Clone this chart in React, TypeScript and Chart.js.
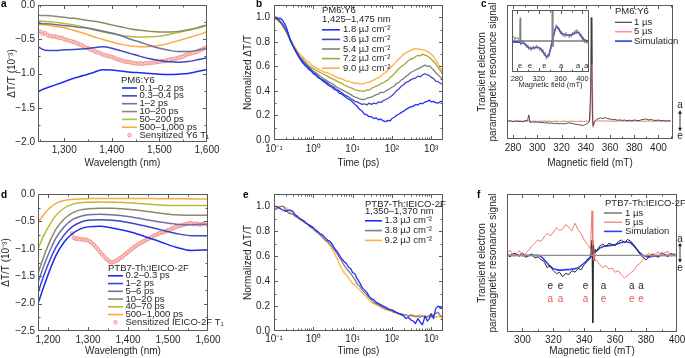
import React, { useEffect, useRef } from 'react';
import { Chart, registerables } from 'chart.js';
Chart.register(...registerables);

const FONT = '"Liberation Sans Narrow", "Arial Narrow", "Liberation Sans", Arial, sans-serif';
const TXT = '#231f20';
const FRAME = '#58595b';

// ---------------- Panel a (PM6:Y6 spectra) ----------------
const aWl = [1245, 1260, 1280, 1300, 1320, 1340, 1360, 1380, 1400, 1420, 1440, 1460, 1480, 1500, 1520, 1540, 1560, 1580, 1600];
const a01 = [-1.26, -1.22, -1.17, -1.12, -1.07, -1.03, -0.99, -0.945, -0.95, -0.965, -0.98, -0.99, -1.0, -1.01, -1.015, -1.01, -1.0, -0.97, -0.94];
const a03 = [-0.61, -0.66, -0.665, -0.655, -0.65, -0.64, -0.625, -0.61, -0.63, -0.67, -0.71, -0.75, -0.785, -0.81, -0.83, -0.835, -0.825, -0.8, -0.77];
const a1 = [-0.27, -0.275, -0.285, -0.3, -0.315, -0.33, -0.35, -0.38, -0.41, -0.45, -0.5, -0.545, -0.59, -0.63, -0.66, -0.68, -0.68, -0.66, -0.63];
const a10 = [-0.15, -0.155, -0.165, -0.18, -0.195, -0.215, -0.235, -0.26, -0.29, -0.32, -0.35, -0.37, -0.385, -0.395, -0.395, -0.385, -0.36, -0.33, -0.29];
const a50 = [-0.23, -0.24, -0.25, -0.27, -0.29, -0.32, -0.36, -0.39, -0.42, -0.445, -0.46, -0.47, -0.465, -0.455, -0.43, -0.4, -0.37, -0.34, -0.3];
const a500 = [-0.28, -0.29, -0.31, -0.33, -0.37, -0.41, -0.46, -0.5, -0.54, -0.575, -0.6, -0.61, -0.605, -0.59, -0.56, -0.52, -0.48, -0.44, -0.39];
const aT1Wl = [1250, 1255, 1260, 1265, 1270, 1275, 1280, 1285, 1290, 1295, 1300, 1305, 1310, 1315, 1320, 1325, 1330, 1335, 1340, 1345, 1350, 1355, 1360, 1365, 1370, 1375, 1380, 1385, 1390, 1395, 1400, 1405, 1410, 1415, 1420, 1425, 1430, 1435, 1440, 1445, 1450, 1455, 1460, 1465, 1470, 1475, 1480, 1485, 1490, 1495, 1500, 1505, 1510, 1515, 1520, 1525, 1530, 1535, 1540, 1545, 1550, 1555, 1560, 1565, 1570, 1575, 1580, 1585, 1590, 1595, 1600];
const aT1 = [-0.39, -0.42, -0.41, -0.44, -0.45, -0.46, -0.46, -0.47, -0.48, -0.48, -0.5, -0.51, -0.52, -0.53, -0.54, -0.55, -0.57, -0.58, -0.6, -0.62, -0.63, -0.65, -0.66, -0.68, -0.69, -0.7, -0.72, -0.73, -0.74, -0.75, -0.76, -0.77, -0.79, -0.8, -0.81, -0.82, -0.83, -0.83, -0.84, -0.85, -0.85, -0.86, -0.85, -0.86, -0.85, -0.85, -0.85, -0.84, -0.84, -0.83, -0.83, -0.82, -0.82, -0.81, -0.8, -0.79, -0.79, -0.78, -0.77, -0.76, -0.75, -0.73, -0.72, -0.71, -0.7, -0.69, -0.68, -0.66, -0.65, -0.63, -0.62];
const aLabels = ['0.1–0.2 ps', '0.3–0.4 ps', '1–2 ps', '10–20 ps', '50–200 ps', '500–1,000 ps', 'Sensitized Y6 T₁'];
const aXTicks = [1300, 1400, 1500, 1600];
const aYTicks = [0, -0.5, -1, -1.5, -2];

// ---------------- Panel d (PTB7-Th:IEICO-2F spectra) ----------------
const dWl = [1175, 1190, 1205, 1220, 1240, 1260, 1280, 1300, 1330, 1360, 1400, 1440, 1480, 1520, 1560, 1600];
const d02 = [-2.0, -1.68, -1.38, -1.12, -0.88, -0.73, -0.64, -0.6, -0.59, -0.62, -0.68, -0.77, -0.87, -0.97, -1.03, -1.02];
const d1 = [-1.8, -1.48, -1.2, -0.97, -0.75, -0.6, -0.52, -0.48, -0.47, -0.48, -0.52, -0.58, -0.65, -0.72, -0.76, -0.76];
const d5 = [-1.62, -1.3, -1.03, -0.8, -0.6, -0.47, -0.41, -0.38, -0.37, -0.38, -0.41, -0.46, -0.51, -0.55, -0.56, -0.55];
const d10 = [-1.45, -1.13, -0.86, -0.64, -0.46, -0.35, -0.29, -0.27, -0.26, -0.26, -0.28, -0.31, -0.35, -0.38, -0.39, -0.39];
const d40 = [-1.0, -0.75, -0.55, -0.39, -0.26, -0.19, -0.16, -0.15, -0.145, -0.15, -0.16, -0.18, -0.2, -0.21, -0.21, -0.21];
const d500 = [-0.52, -0.37, -0.25, -0.17, -0.12, -0.1, -0.09, -0.085, -0.08, -0.08, -0.08, -0.08, -0.085, -0.085, -0.09, -0.09];
const dT1Wl = [1260, 1265, 1270, 1275, 1280, 1285, 1290, 1295, 1300, 1305, 1310, 1315, 1320, 1325, 1330, 1335, 1340, 1345, 1350, 1355, 1360, 1365, 1370, 1375, 1380, 1385, 1390, 1395, 1400, 1405, 1410, 1415, 1420, 1425, 1430, 1435, 1440, 1445, 1450, 1455, 1460, 1465, 1470, 1475, 1480, 1485, 1490, 1495, 1500, 1505, 1510, 1515, 1520, 1525, 1530, 1535, 1540, 1545, 1550, 1555, 1560, 1565, 1570, 1575, 1580, 1585, 1590, 1595, 1600];
const dT1 = [-0.72, -0.8, -0.82, -0.81, -0.83, -0.82, -0.84, -0.83, -0.85, -0.87, -0.9, -0.93, -0.97, -1.01, -1.06, -1.1, -1.14, -1.18, -1.21, -1.24, -1.25, -1.24, -1.22, -1.2, -1.17, -1.15, -1.12, -1.09, -1.06, -1.03, -1.0, -0.97, -0.95, -0.92, -0.9, -0.88, -0.86, -0.84, -0.82, -0.8, -0.78, -0.76, -0.75, -0.73, -0.71, -0.7, -0.69, -0.68, -0.66, -0.65, -0.63, -0.62, -0.6, -0.59, -0.58, -0.57, -0.56, -0.55, -0.54, -0.53, -0.54, -0.55, -0.54, -0.55, -0.56, -0.55, -0.54, -0.53, -0.57];
const dLabels = ['0.2–0.3 ps', '1–2 ps', '5–6 ps', '10–20 ps', '40–70 ps', '500–1,000 ps', 'Sensitized IEICO-2F T₁'];
const dXTicks = [1200, 1300, 1400, 1500, 1600];
const dYTicks = [0, -0.5, -1, -1.5, -2, -2.5];

// ---------------- Panels b & e (kinetics) ----------------
const timePs = [0.1, 0.115, 0.13, 0.15, 0.17, 0.2, 0.23, 0.26, 0.3, 0.35, 0.4, 0.46, 0.53, 0.6, 0.7, 0.8, 0.9, 1, 1.15, 1.3, 1.5, 1.75, 2, 2.3, 2.6, 3, 3.5, 4, 4.6, 5.3, 6, 7, 8, 9, 10, 11.5, 13, 15, 17.5, 20, 23, 26, 30, 35, 40, 46, 53, 60, 70, 80, 90, 100, 115, 130, 150, 175, 200, 230, 260, 300, 350, 400, 460, 530, 600, 700, 800, 900, 1000, 1150, 1300, 1500, 1750, 2000];
const b18 = [1.0, 1.0, 0.99, 0.99, 0.97, 0.93, 0.87, 0.82, 0.77, 0.73, 0.69, 0.66, 0.63, 0.61, 0.59, 0.57, 0.56, 0.54, 0.53, 0.51, 0.5, 0.48, 0.47, 0.45, 0.44, 0.43, 0.41, 0.405, 0.38, 0.375, 0.36, 0.345, 0.33, 0.325, 0.31, 0.29, 0.275, 0.25, 0.235, 0.21, 0.205, 0.19, 0.19, 0.175, 0.18, 0.165, 0.17, 0.155, 0.15, 0.16, 0.155, 0.175, 0.185, 0.2, 0.21, 0.225, 0.235, 0.25, 0.26, 0.27, 0.275, 0.29, 0.285, 0.3, 0.295, 0.31, 0.315, 0.325, 0.31, 0.315, 0.305, 0.3, 0.315, 0.31];
const b36 = [1.0, 0.99, 0.98, 0.96, 0.94, 0.9, 0.86, 0.81, 0.77, 0.73, 0.7, 0.67, 0.64, 0.62, 0.6, 0.58, 0.565, 0.55, 0.535, 0.52, 0.5, 0.49, 0.48, 0.465, 0.45, 0.44, 0.425, 0.41, 0.4, 0.385, 0.37, 0.36, 0.35, 0.335, 0.33, 0.315, 0.31, 0.3, 0.29, 0.295, 0.285, 0.3, 0.29, 0.3, 0.295, 0.31, 0.305, 0.32, 0.33, 0.34, 0.35, 0.36, 0.38, 0.4, 0.415, 0.44, 0.45, 0.47, 0.475, 0.49, 0.5, 0.505, 0.52, 0.515, 0.53, 0.54, 0.53, 0.525, 0.51, 0.5, 0.48, 0.475, 0.46, 0.45];
const b54 = [0.99, 0.99, 0.98, 0.96, 0.93, 0.89, 0.85, 0.81, 0.77, 0.73, 0.7, 0.67, 0.65, 0.63, 0.61, 0.59, 0.575, 0.56, 0.55, 0.535, 0.52, 0.505, 0.495, 0.48, 0.47, 0.46, 0.445, 0.43, 0.42, 0.41, 0.4, 0.39, 0.38, 0.37, 0.36, 0.35, 0.345, 0.335, 0.33, 0.33, 0.34, 0.345, 0.35, 0.36, 0.37, 0.375, 0.39, 0.385, 0.4, 0.41, 0.42, 0.43, 0.44, 0.46, 0.47, 0.49, 0.5, 0.52, 0.53, 0.55, 0.56, 0.57, 0.58, 0.59, 0.6, 0.61, 0.6, 0.605, 0.59, 0.57, 0.55, 0.53, 0.51, 0.49];
const b72 = [0.99, 0.99, 0.97, 0.95, 0.93, 0.89, 0.85, 0.81, 0.78, 0.74, 0.71, 0.68, 0.66, 0.64, 0.62, 0.6, 0.59, 0.58, 0.57, 0.56, 0.55, 0.54, 0.53, 0.52, 0.51, 0.5, 0.49, 0.48, 0.47, 0.46, 0.45, 0.44, 0.43, 0.425, 0.42, 0.41, 0.405, 0.4, 0.4, 0.395, 0.41, 0.405, 0.42, 0.43, 0.44, 0.445, 0.46, 0.465, 0.48, 0.49, 0.51, 0.52, 0.54, 0.56, 0.58, 0.6, 0.61, 0.63, 0.645, 0.66, 0.665, 0.68, 0.69, 0.685, 0.7, 0.69, 0.685, 0.67, 0.66, 0.64, 0.62, 0.59, 0.56, 0.53];
const b90 = [0.99, 0.98, 0.97, 0.95, 0.92, 0.89, 0.85, 0.82, 0.79, 0.75, 0.72, 0.7, 0.68, 0.66, 0.64, 0.63, 0.61, 0.6, 0.59, 0.58, 0.57, 0.56, 0.55, 0.55, 0.54, 0.53, 0.52, 0.51, 0.5, 0.5, 0.49, 0.48, 0.48, 0.47, 0.47, 0.46, 0.465, 0.455, 0.46, 0.46, 0.47, 0.47, 0.48, 0.49, 0.5, 0.51, 0.52, 0.54, 0.55, 0.57, 0.59, 0.6, 0.62, 0.64, 0.66, 0.68, 0.7, 0.71, 0.72, 0.73, 0.74, 0.745, 0.74, 0.74, 0.735, 0.73, 0.72, 0.71, 0.7, 0.68, 0.65, 0.62, 0.58, 0.54];
const bLabels = ['1.8 µJ cm⁻²', '3.6 µJ cm⁻²', '5.4 µJ cm⁻²', '7.2 µJ cm⁻²', '9.0 µJ cm⁻²'];
const e13 = [1.0, 1.0, 0.99, 0.98, 0.97, 0.96, 0.97, 0.97, 0.96, 0.93, 0.92, 0.9, 0.89, 0.88, 0.86, 0.85, 0.84, 0.83, 0.81, 0.8, 0.78, 0.77, 0.75, 0.73, 0.72, 0.7, 0.66, 0.64, 0.61, 0.58, 0.56, 0.54, 0.51, 0.5, 0.47, 0.46, 0.42, 0.39, 0.35, 0.33, 0.31, 0.28, 0.26, 0.25, 0.23, 0.22, 0.21, 0.2, 0.19, 0.18, 0.17, 0.17, 0.16, 0.15, 0.14, 0.13, 0.12, 0.1, 0.11, 0.09, 0.08, 0.06, 0.1, 0.07, 0.05, 0.12, 0.08, 0.1, 0.14, 0.1, 0.18, 0.2, 0.18, 0.2];
const e38 = [0.97, 0.98, 0.99, 1.0, 1.0, 0.97, 0.95, 0.94, 0.94, 0.92, 0.91, 0.9, 0.89, 0.87, 0.86, 0.84, 0.83, 0.82, 0.8, 0.79, 0.77, 0.75, 0.73, 0.72, 0.7, 0.68, 0.65, 0.62, 0.59, 0.56, 0.53, 0.5, 0.48, 0.46, 0.44, 0.41, 0.38, 0.36, 0.33, 0.31, 0.29, 0.27, 0.25, 0.23, 0.22, 0.21, 0.2, 0.19, 0.18, 0.17, 0.17, 0.16, 0.15, 0.15, 0.14, 0.14, 0.13, 0.13, 0.12, 0.13, 0.12, 0.12, 0.12, 0.11, 0.12, 0.12, 0.11, 0.12, 0.12, 0.13, 0.14, 0.15, 0.12, 0.12];
const e92 = [0.98, 0.99, 1.0, 1.0, 1.0, 0.99, 0.97, 0.95, 0.94, 0.93, 0.91, 0.89, 0.88, 0.87, 0.86, 0.84, 0.83, 0.82, 0.8, 0.79, 0.77, 0.75, 0.73, 0.71, 0.69, 0.66, 0.62, 0.58, 0.54, 0.5, 0.47, 0.45, 0.42, 0.4, 0.38, 0.37, 0.35, 0.33, 0.31, 0.29, 0.27, 0.25, 0.23, 0.22, 0.21, 0.2, 0.19, 0.18, 0.17, 0.17, 0.16, 0.16, 0.15, 0.14, 0.14, 0.13, 0.13, 0.13, 0.12, 0.12, 0.13, 0.11, 0.12, 0.13, 0.12, 0.11, 0.12, 0.13, 0.11, 0.12, 0.11, 0.12, 0.11, 0.11];
const eLabels = ['1.3 µJ cm⁻²', '3.8 µJ cm⁻²', '9.2 µJ cm⁻²'];
const logTicks = [0.1, 1, 10, 100, 1000];
const logTickLabels = ['10⁻¹', '10⁰', '10¹', '10²', '10³'];
const normYTicks = [0, 0.2, 0.4, 0.6, 0.8, 1.0];

// ---------------- Panel c (PM6:Y6 trEPR) ----------------
const cField = [276, 278, 280, 282, 284, 286, 288, 290, 292, 293, 294, 296, 298, 300, 302, 304, 306, 308, 310, 312, 314, 316, 318, 320, 322, 324, 326, 328, 330, 332, 334, 336, 338, 340, 342, 343, 344, 344.5, 345, 345.5, 346, 347, 348, 349, 350, 352, 354, 356, 358, 360, 362, 364, 366, 368, 370, 372, 374, 376, 378, 380, 382, 384, 386, 388, 390, 392, 394, 396, 398, 400, 402, 404, 406, 408, 410];
const c1us = [0.0, 0.02, -0.03, 0.01, -0.02, 0.0, -0.04, 0.02, 0.04, 0.35, -0.08, -0.04, -0.06, -0.05, -0.08, -0.06, -0.1, -0.09, -0.12, -0.1, -0.14, -0.12, -0.15, -0.13, -0.16, -0.12, -0.1, -0.12, -0.15, -0.18, -0.2, -0.22, -0.25, -0.18, -0.1, 0.0, 1.6, 5.8, 3.2, 0.4, -0.25, -0.05, 0.05, 0.1, 0.12, 0.18, 0.15, 0.2, 0.14, 0.12, 0.08, 0.1, 0.05, 0.07, 0.04, 0.06, 0.02, 0.05, 0.03, 0.06, 0.04, 0.03, 0.08, 0.1, 0.12, 0.07, 0.09, 0.05, 0.04, 0.06, 0.02, 0.04, 0.0, 0.02, 0.01];
const c5us = [0.0, 0.01, -0.01, 0.0, 0.01, -0.01, 0.0, 0.01, 0.0, 0.02, 0.0, -0.01, 0.0, -0.02, 0.0, -0.01, 0.01, -0.01, 0.0, -0.02, -0.01, 0.0, -0.02, -0.01, 0.0, -0.02, -0.01, 0.0, -0.01, -0.02, -0.01, 0.0, -0.02, -0.01, 0.0, 0.0, 0.3, 2.5, 5.3, 2.0, -0.35, -0.1, 0.0, 0.01, 0.02, 0.01, 0.0, 0.02, 0.01, 0.0, -0.01, 0.01, 0.0, 0.02, 0.0, -0.01, 0.01, 0.0, -0.01, 0.01, 0.0, 0.01, 0.0, -0.01, 0.0, 0.01, 0.0, -0.01, 0.0, 0.01, 0.0, -0.01, 0.0, 0.01, 0.0];
const cXTicks = [280, 300, 320, 340, 360, 380, 400];
const eprLabels = ['1 µs', '5 µs', 'Simulation'];
// inset
const insetField = [272, 274, 276, 278, 280, 282, 284, 285, 286, 287, 288, 290, 292, 294, 296, 298, 300, 302, 304, 306, 308, 310, 312, 314, 316, 318, 320, 322, 324, 326, 328, 330, 332, 334, 336, 338, 340, 342, 343, 344, 345, 346, 347, 348, 350, 352, 354, 356, 358, 360, 362, 364, 366, 368, 370, 372, 374, 376, 378, 380, 382, 384, 386, 388, 390, 392, 394, 396, 398, 400, 402, 404, 406, 408, 410];
const insetTrace = [0.15, 0.25, 0.05, 0.2, 0.1, 0.18, -0.05, 0.9, 1.2, -0.2, 0.05, -0.1, 0.05, -0.2, -0.1, -0.35, -0.2, -0.45, -0.3, -0.5, -0.35, -0.25, -0.45, -0.3, -0.2, -0.4, -0.3, -0.5, -0.35, -0.6, -0.45, -0.75, -0.6, -0.95, -0.7, -0.85, -0.5, -0.4, -0.2, 1.7, 1.7, -0.3, 0.2, 0.35, 0.6, 0.85, 0.7, 0.55, 0.65, 0.35, 0.5, 0.25, 0.4, 0.2, 0.45, 0.25, 0.35, 0.15, 0.3, 0.2, 0.45, 0.3, 0.55, 0.35, 0.6, 0.4, 0.5, 0.2, 0.35, 0.05, 0.2, -0.1, 0.1, -0.15, 0.05];
const insetSimX = [272, 280, 288, 294, 300, 306, 312, 318, 324, 330, 334, 338, 342, 346, 350, 353, 356, 360, 365, 370, 375, 380, 385, 389, 393, 397, 401, 405, 410];
const insetSim = [-0.05, -0.05, -0.08, -0.15, -0.3, -0.38, -0.35, -0.32, -0.42, -0.65, -0.8, -0.75, -0.35, 0.15, 0.6, 0.75, 0.65, 0.45, 0.35, 0.32, 0.3, 0.32, 0.4, 0.45, 0.42, 0.28, 0.12, 0.03, 0.0];
const insetXTicks = [280, 320, 360, 400];
const insetLetters = ['e', 'e', 'e', 'a', 'a', 'a'];
const insetLetterX = [286, 304, 330, 361, 392, 407];

// ---------------- Panel f (PTB7-Th:IEICO-2F trEPR) ----------------
const fField = [290, 292, 294, 296, 298, 300, 302, 304, 306, 308, 310, 312, 314, 316, 318, 320, 322, 324, 326, 328, 330, 332, 334, 336, 338, 340, 342, 344, 345, 345.5, 346, 346.5, 347, 348, 350, 352, 354, 356, 358, 360, 362, 364, 366, 368, 370, 372, 374, 376, 378, 380, 382, 384, 386, 388, 390, 392, 394, 396, 398, 400];
const f1us = [0.02, -0.03, 0.04, 0.03, -0.02, 0.05, -0.04, -0.01, 0.03, -0.05, -0.03, -0.08, -0.12, -0.24, -0.2, -0.3, -0.36, -0.33, -0.42, -0.35, -0.38, -0.3, -0.33, -0.26, -0.28, -0.18, -0.12, -0.05, 0.3, -1.32, 0.2, -0.1, 0.12, 0.08, 0.18, 0.22, 0.17, 0.24, 0.21, 0.19, 0.27, 0.3, 0.25, 0.31, 0.28, 0.2, 0.12, 0.02, -0.04, -0.09, -0.03, 0.03, 0.0, -0.04, 0.05, 0.02, -0.03, 0.04, 0.01, -0.02];
const f5us = [0.05, 0.1, -0.02, 0.03, 0.09, -0.03, 0.04, 0.1, 0.18, 0.24, 0.3, 0.27, 0.36, 0.43, 0.38, 0.45, 0.54, 0.48, 0.52, 0.6, 0.55, 0.48, 0.63, 0.5, 0.42, 0.3, 0.22, 0.12, 0.87, 0.2, -0.1, 0.05, -0.1, -0.1, -0.18, -0.24, -0.2, -0.27, -0.25, -0.33, -0.3, -0.38, -0.44, -0.4, -0.34, -0.3, -0.2, -0.16, -0.08, 0.0, 0.04, -0.04, 0.03, 0.07, -0.01, 0.05, 0.08, -0.02, 0.04, 0.0];
const fSimX = [290, 300, 310, 312, 314, 316, 318, 320, 322, 324, 326, 328, 330, 332, 334, 336, 338, 340, 342, 344, 346, 348, 350, 352, 354, 356, 358, 360, 362, 364, 366, 368, 370, 372, 374, 376, 378, 380, 382, 384, 386, 390, 400];
const fSim = [0, 0, 0, -0.02, -0.08, -0.15, -0.22, -0.26, -0.28, -0.29, -0.29, -0.28, -0.28, -0.27, -0.26, -0.24, -0.2, -0.15, -0.09, -0.03, 0.03, 0.09, 0.14, 0.17, 0.18, 0.19, 0.2, 0.21, 0.23, 0.25, 0.26, 0.26, 0.24, 0.19, 0.12, 0.05, 0.0, -0.02, -0.03, -0.02, -0.01, 0, 0];
const fXTicks = [300, 320, 340, 360, 380, 400];
const fLetterX = [318, 324.6, 340.8, 352.5, 370.8, 376.8];
const fRow1 = ['e', 'e', 'e', 'a', 'a', 'a'];
const fRow2 = ['a', 'a', 'a', 'e', 'e', 'e'];

// ---------------- helpers ----------------
type Spec = { left: number; top: number; w: number; h: number; plot: [number, number, number, number] };
const pts = (xs: number[], ys: number[]) => xs.map((x, i) => ({ x, y: ys[i] }));
const signed = (v: number, d: number) => (v < -1e-9 ? '−' : '') + Math.abs(v).toFixed(d);
const comma = (v: number) => String(v).replace(/\B(?=(\d{3})+(?!\d))/g, ',');
const fixTicks = (vals: number[]) => (s: any) => { s.ticks = vals.map((v) => ({ value: v })); };
const logMinor = (() => { const r: number[] = []; [0.1, 1, 10, 100, 1000].forEach((d) => { for (let k = 2; k <= 9; k++) r.push(d * k); }); return r; })();

function framePlugin(f: { xMajor: number[]; xMinor: number[]; yMajor: number[]; yMinor: number[] }) {
  return {
    id: 'frame',
    afterDatasetsDraw(chart: any) {
      const { ctx, chartArea: a, scales } = chart;
      const L = Math.round(a.left) + 0.5, R = Math.round(a.right) - 0.5, T = Math.round(a.top) + 0.5, B = Math.round(a.bottom) - 0.5;
      ctx.save();
      ctx.strokeStyle = FRAME;
      ctx.lineWidth = 1;
      ctx.beginPath();
      const xt = (vals: number[], len: number) => vals.forEach((v) => {
        const p = Math.round(scales.x.getPixelForValue(v)) + 0.5;
        if (p < L + 1 || p > R - 1) return;
        ctx.moveTo(p, B); ctx.lineTo(p, B - len); ctx.moveTo(p, T); ctx.lineTo(p, T + len);
      });
      const yt = (vals: number[], len: number) => vals.forEach((v) => {
        const p = Math.round(scales.y.getPixelForValue(v)) + 0.5;
        if (p < T + 1 || p > B - 1) return;
        ctx.moveTo(L, p); ctx.lineTo(L + len, p); ctx.moveTo(R, p); ctx.lineTo(R - len, p);
      });
      xt(f.xMajor, 3.5); xt(f.xMinor, 2); yt(f.yMajor, 3.5); yt(f.yMinor, 2);
      ctx.stroke();
      ctx.strokeRect(L, T, R - L, B - T);
      ctx.restore();
    },
  };
}

type Row = { label: string; color: string; kind?: 'line' | 'dot'; fill?: string; w?: number };
type Legend = { x: number; titles: [string, number][]; lx0: number; lx1: number; tx: number; y0: number; dy: number; rows: Row[]; size: number };
type Overlay = {
  origin: [number, number];
  legend?: Legend;
  marks?: { x: number; y: number; t: string; c: string }[];
  markSize?: number;
  ae?: { x: number; up: number; a0: number; a1: number; down: number };
};

function overlayPlugin(o: Overlay) {
  return {
    id: 'overlay',
    afterDraw(chart: any) {
      const { ctx, scales } = chart;
      const [ox, oy] = o.origin;
      ctx.save();
      ctx.textBaseline = 'middle';
      if (o.legend) {
        const L = o.legend;
        ctx.font = `${L.size}px ${FONT}`;
        ctx.textAlign = 'left';
        ctx.fillStyle = TXT;
        L.titles.forEach(([t, y]) => ctx.fillText(t, L.x - ox, y - oy));
        L.rows.forEach((r, i) => {
          const y = L.y0 + i * L.dy - oy;
          if (r.kind === 'dot') {
            ctx.beginPath();
            ctx.arc((L.lx0 + L.lx1) / 2 - ox, y, 1.8, 0, Math.PI * 2);
            ctx.fillStyle = r.fill || '#fff';
            ctx.fill();
            ctx.lineWidth = 0.8;
            ctx.strokeStyle = r.color;
            ctx.stroke();
          } else {
            ctx.beginPath();
            ctx.moveTo(L.lx0 - ox, y);
            ctx.lineTo(L.lx1 - ox, y);
            ctx.lineWidth = r.w || 1.6;
            ctx.strokeStyle = r.color;
            ctx.stroke();
          }
          ctx.fillStyle = TXT;
          ctx.fillText(r.label, L.tx - ox, y);
        });
      }
      if (o.marks) {
        ctx.textAlign = 'center';
        ctx.font = `${o.markSize || 10}px ${FONT}`;
        o.marks.forEach((m) => {
          ctx.fillStyle = m.c;
          ctx.fillText(m.t, scales.x.getPixelForValue(m.x), scales.y.getPixelForValue(m.y));
        });
      }
      if (o.ae) {
        const A = o.ae;
        const base = scales.y.getPixelForValue(0);
        const x = A.x - ox;
        ctx.fillStyle = TXT;
        ctx.strokeStyle = TXT;
        ctx.textAlign = 'center';
        ctx.font = `10px ${FONT}`;
        ctx.fillText('a', x, base - A.up);
        ctx.fillText('e', x, base + A.down);
        ctx.lineWidth = 0.9;
        ctx.beginPath();
        ctx.moveTo(x, base - A.a0 + 2);
        ctx.lineTo(x, base + A.a1 - 2);
        ctx.stroke();
        ctx.beginPath();
        ctx.moveTo(x, base - A.a0); ctx.lineTo(x - 2, base - A.a0 + 3.5); ctx.lineTo(x + 2, base - A.a0 + 3.5); ctx.closePath();
        ctx.moveTo(x, base + A.a1); ctx.lineTo(x - 2, base + A.a1 - 3.5); ctx.lineTo(x + 2, base + A.a1 - 3.5); ctx.closePath();
        ctx.fill();
      }
      ctx.restore();
    },
  };
}

const tickFont = (size = 10) => ({ family: FONT, size });
const titleOpt = (text: string | string[], pad: { top: number; bottom: number }, size = 10, lh = 1.2) => ({
  display: true, text, color: TXT, font: { family: FONT, size, lineHeight: lh }, padding: pad,
});

function baseConfig(spec: Spec, x: any, y: any, datasets: any[], plugins: any[]) {
  const [pl, pt, pr, pb] = spec.plot;
  return {
    type: 'line',
    data: { datasets },
    plugins,
    options: {
      responsive: false,
      maintainAspectRatio: false,
      animation: false,
      events: [],
      layout: { padding: { left: 0, top: pt - spec.top, right: spec.left + spec.w - pr, bottom: 0 } },
      plugins: { legend: { display: false }, tooltip: { enabled: false } },
      elements: { point: { radius: 0 }, line: { borderJoinStyle: 'round' } },
      scales: {
        x: {
          ...x,
          grid: { display: false, drawTicks: false },
          border: { display: false },
          afterFit: (s: any) => { s.height = spec.top + spec.h - pb; s.paddingLeft = 0; s.paddingRight = 0; },
        },
        y: {
          ...y,
          grid: { display: false, drawTicks: false },
          border: { display: false },
          afterFit: (s: any) => { s.width = pl - spec.left; s.paddingTop = 0; s.paddingBottom = 0; },
        },
      },
    },
  };
}

const line = (data: any[], color: string, w = 1.5, smooth = false) => ({
  data, borderColor: color, backgroundColor: color, borderWidth: w, pointRadius: 0, fill: false,
  cubicInterpolationMode: smooth ? 'monotone' : 'default', tension: 0,
});
const dots = (data: any[]) => ({
  data, showLine: false, pointRadius: 1.8, pointBorderWidth: 0.8, pointBorderColor: '#f0857d', pointBackgroundColor: '#fbd3cf', borderColor: '#f0857d',
});

// ---------------- specs ----------------
const SA: Spec = { left: 0, top: 0, w: 225, h: 178, plot: [38, 5, 207, 142] };
const SB: Spec = { left: 225, top: 0, w: 228, h: 178, plot: [274, 5, 443, 140] };
const SC: Spec = { left: 453, top: 0, w: 232, h: 178, plot: [507, 5, 673, 139] };
const SI: Spec = { left: 505, top: 8, w: 95, h: 85, plot: [512, 10, 589, 72] };
const SD: Spec = { left: 0, top: 178, w: 225, h: 180, plot: [38, 194, 208, 331] };
const SE: Spec = { left: 225, top: 178, w: 228, h: 180, plot: [274, 194, 443, 331] };
const SF: Spec = { left: 453, top: 178, w: 232, h: 180, plot: [507, 194, 677, 332] };

const specColorsA = ['#1b2cf2', '#3b45c6', '#6e71a6', '#8a8b63', '#b7bd2e', '#fcaa3c'];
const colorsB = ['#1f2ff5', '#3f47c4', '#808080', '#a3a934', '#ffae45'];
const colorsE = ['#1f2ff5', '#7f7f7f', '#ffb347'];

function makeSpectrum(spec: Spec, xs: number[], series: number[][], t1x: number[], t1y: number[], xr: [number, number], yr: [number, number], xt: number[], yt: number[], labels: string[], legend: Omit<Legend, 'rows' | 'size'>, yTitlePad: number, xTitlePad: number, xTickPad: number) {
  const ds = series.map((ys, i) => line(pts(xs, ys), specColorsA[i], 1.5, true));
  ds.push(dots(pts(t1x, t1y)) as any);
  const rows: Row[] = labels.map((l, i) => (i < 6 ? { label: l, color: specColorsA[i] } : { label: l, color: '#f0857d', kind: 'dot', fill: '#fbd3cf' }));
  const xMinor = xt.map((v) => v - 50).concat([xt[xt.length - 1] + 50]);
  const yMinor = yt.slice(0, -1).map((v) => v - 0.25);
  return baseConfig(
    spec,
    {
      type: 'linear', min: xr[0], max: xr[1], afterBuildTicks: fixTicks(xt),
      ticks: { autoSkip: false, maxRotation: 0, color: TXT, font: tickFont(), padding: xTickPad, callback: (v: number) => comma(v) },
      title: titleOpt('Wavelength (nm)', { top: 0, bottom: xTitlePad }),
    },
    {
      type: 'linear', min: yr[0], max: yr[1], afterBuildTicks: fixTicks(yt),
      ticks: { autoSkip: false, color: TXT, font: tickFont(), padding: 3, callback: (v: number) => signed(v, 1) },
      title: titleOpt('ΔT/T (10⁻³)', { top: yTitlePad, bottom: 0 }),
    },
    ds,
    [framePlugin({ xMajor: xt, xMinor, yMajor: yt, yMinor }), overlayPlugin({ origin: [spec.left, spec.top], legend: { ...legend, rows, size: 9.5 } })],
  );
}

function makeKinetics(spec: Spec, series: number[][], colors: string[], labels: string[], legend: Omit<Legend, 'rows' | 'size'>, xTitlePad: number, xTickPad: number) {
  const ds = series.map((ys, i) => line(pts(timePs, ys), colors[i], 1.3));
  const rows: Row[] = labels.map((l, i) => ({ label: l, color: colors[i] }));
  return baseConfig(
    spec,
    {
      type: 'logarithmic', min: 0.1, max: 2000, afterBuildTicks: fixTicks(logTicks),
      ticks: { autoSkip: false, maxRotation: 0, color: TXT, font: tickFont(), padding: xTickPad, callback: (v: number) => logTickLabels[logTicks.indexOf(v)] ?? '' },
      title: titleOpt('Time (ps)', { top: 0, bottom: xTitlePad }),
    },
    {
      type: 'linear', min: 0, max: 1.1, afterBuildTicks: fixTicks(normYTicks),
      ticks: { autoSkip: false, color: TXT, font: tickFont(), padding: 4, callback: (v: number) => v.toFixed(1) },
      title: titleOpt('Normalized ΔT/T', { top: 17, bottom: 0 }),
    },
    ds,
    [framePlugin({ xMajor: logTicks, xMinor: logMinor, yMajor: normYTicks, yMinor: [0.1, 0.3, 0.5, 0.7, 0.9] }), overlayPlugin({ origin: [spec.left, spec.top], legend: { ...legend, rows, size: 9.5 } })],
  );
}

const eprYTitle = ['Transient electron', 'paramagnetic resonance signal'];

function configA() {
  return makeSpectrum(SA, aWl, [a01, a03, a1, a10, a50, a500], aT1Wl, aT1, [1245, 1600], [-2, 0], aXTicks, aYTicks, aLabels,
    { x: 121, titles: [['PM6:Y6', 80]], lx0: 122, lx1: 137, tx: 139.5, y0: 88, dy: 7.85 }, 6, 9, 2);
}
function configD() {
  return makeSpectrum(SD, dWl, [d02, d1, d5, d10, d40, d500], dT1Wl, dT1, [1175, 1600], [-2.5, 0], dXTicks, dYTicks, dLabels,
    { x: 108, titles: [['PTB7-Th:IEICO-2F', 268.7]], lx0: 108, lx1: 123, tx: 125.5, y0: 275.8, dy: 7.75 }, 0, 1, 3.5);
}
function configB() {
  return makeKinetics(SB, [b18, b36, b54, b72, b90], colorsB, bLabels,
    { x: 322, titles: [['PM6:Y6', 10], ['1,425–1,475 nm', 19.8]], lx0: 322, lx1: 340, tx: 343, y0: 29.8, dy: 9.6 }, 9, 3);
}
function configE() {
  return makeKinetics(SE, [e13, e38, e92], colorsE, eLabels,
    { x: 365, titles: [['PTB7-Th:IEICO-2F', 204], ['1,350–1,370 nm', 211.5]], lx0: 365, lx1: 382, tx: 384.5, y0: 220.8, dy: 9.8 }, 1, 2.5);
}
function configC() {
  const ds = [line(pts(cField, c1us), '#3c3c3c', 0.9), line(pts(cField, c5us), '#f59a93', 1.2)];
  return baseConfig(
    SC,
    {
      type: 'linear', min: 275, max: 412, afterBuildTicks: fixTicks(cXTicks),
      ticks: { autoSkip: false, maxRotation: 0, color: TXT, font: tickFont(), padding: 3, callback: (v: number) => String(v) },
      title: titleOpt('Magnetic field (mT)', { top: 0, bottom: 9 }),
    },
    { type: 'linear', min: -1, max: 6.5, ticks: { display: false }, title: titleOpt(eprYTitle, { top: 23.5, bottom: 0 }, 10, 1.1) },
    ds,
    [
      framePlugin({ xMajor: cXTicks, xMinor: [290, 310, 330, 350, 370, 390, 410], yMajor: [], yMinor: [] }),
      overlayPlugin({
        origin: [SC.left, SC.top],
        legend: {
          x: 615, titles: [['PM6:Y6', 11.7]], lx0: 615, lx1: 632, tx: 634, y0: 22.3, dy: 9.4, size: 9.5,
          rows: [{ label: eprLabels[0], color: '#444', w: 1.2 }, { label: eprLabels[1], color: '#f59a93' }, { label: eprLabels[2], color: '#2a3cf0' }],
        },
        ae: { x: 680, up: 16, a0: 11, a1: 10, down: 15 },
      }),
    ],
  );
}
function configInset() {
  const ds = [
    line(pts(insetField, insetTrace), '#7d7d7d', 0.8),
    line(pts([271, 412], [0, 0]), '#222', 0.9),
    line(pts(insetSimX, insetSim), '#2233e6', 1.6, true),
  ];
  return baseConfig(
    SI,
    {
      type: 'linear', min: 271, max: 412, afterBuildTicks: fixTicks(insetXTicks),
      ticks: { autoSkip: false, maxRotation: 0, color: TXT, font: tickFont(7.5), padding: 2, callback: (v: number) => String(v) },
      title: titleOpt('Magnetic field (mT)', { top: 0, bottom: 3.5 }, 7.5),
    },
    { type: 'linear', min: -1.6, max: 1.6, ticks: { display: false } },
    ds,
    [
      framePlugin({ xMajor: insetXTicks, xMinor: [300, 340, 380], yMajor: [], yMinor: [] }),
      overlayPlugin({
        origin: [SI.left, SI.top],
        marks: insetLetters.map((t, i) => ({ x: insetLetterX[i], y: -1.27, t, c: TXT })),
        markSize: 7.5,
      }),
    ],
  );
}
function configF() {
  const ds = [
    line(pts(fField, f5us), '#f3776f', 1.0),
    line(pts([290, 400], [0, 0]), '#8e8e8e', 1.2),
    line(pts(fField, f1us), '#2a2a2a', 1.0),
    line(pts(fSimX, fSim), '#3040f0', 1.6, true),
  ];
  const marks = fRow1.map((t, i) => ({ x: fLetterX[i], y: -0.61, t, c: TXT }))
    .concat(fRow2.map((t, i) => ({ x: fLetterX[i], y: -0.85, t, c: '#ea5a50' })));
  return baseConfig(
    SF,
    {
      type: 'linear', min: 290, max: 400, afterBuildTicks: fixTicks(fXTicks),
      ticks: { autoSkip: false, maxRotation: 0, color: TXT, font: tickFont(), padding: 2, callback: (v: number) => String(v) },
      title: titleOpt('Magnetic field (mT)', { top: 0, bottom: 1 }),
    },
    { type: 'linear', min: -1.5, max: 1.2, ticks: { display: false }, title: titleOpt(eprYTitle, { top: 23.5, bottom: 0 }, 10, 1.1) },
    ds,
    [
      framePlugin({ xMajor: fXTicks, xMinor: [290, 310, 330, 350, 370, 390], yMajor: [], yMinor: [] }),
      overlayPlugin({
        origin: [SF.left, SF.top],
        legend: {
          x: 605, titles: [['PTB7-Th:IEICO-2F', 203]], lx0: 604, lx1: 622, tx: 625, y0: 213, dy: 9.2, size: 9.5,
          rows: [{ label: eprLabels[0], color: '#555', w: 1.2 }, { label: eprLabels[1], color: '#f3776f', w: 1.2 }, { label: eprLabels[2], color: '#3040f0' }],
        },
        marks,
        markSize: 10,
        ae: { x: 680, up: 16, a0: 12.5, a1: 7.5, down: 12.5 },
      }),
    ],
  );
}

function ChartBox({ spec, make }: { spec: Spec; make: () => any }) {
  const ref = useRef<HTMLCanvasElement>(null);
  useEffect(() => {
    const chart = new Chart(ref.current as HTMLCanvasElement, make());
    return () => chart.destroy();
  }, []);
  return (
    <canvas
      ref={ref}
      width={spec.w}
      height={spec.h}
      style={{ position: 'absolute', left: spec.left, top: spec.top, width: spec.w, height: spec.h }}
    />
  );
}

const panelLetters: [string, number, number][] = [
  ['a', 1, -1], ['b', 256, -1], ['c', 481, -1], ['d', 1, 190], ['e', 243, 190], ['f', 477, 190],
];

export default function App() {
  return (
    <div style={{ position: 'fixed', left: 0, top: 0, width: 685, height: 358, background: '#fff', overflow: 'hidden' }}>
      <ChartBox spec={SA} make={configA} />
      <ChartBox spec={SB} make={configB} />
      <ChartBox spec={SC} make={configC} />
      <ChartBox spec={SI} make={configInset} />
      <ChartBox spec={SD} make={configD} />
      <ChartBox spec={SE} make={configE} />
      <ChartBox spec={SF} make={configF} />
      {panelLetters.map(([t, x, y]) => (
        <div key={t} style={{ position: 'absolute', left: x, top: y, font: 'bold 10px "Liberation Sans", Arial, sans-serif', lineHeight: '10px', color: '#000' }}>
          {t}
        </div>
      ))}
    </div>
  );
}
